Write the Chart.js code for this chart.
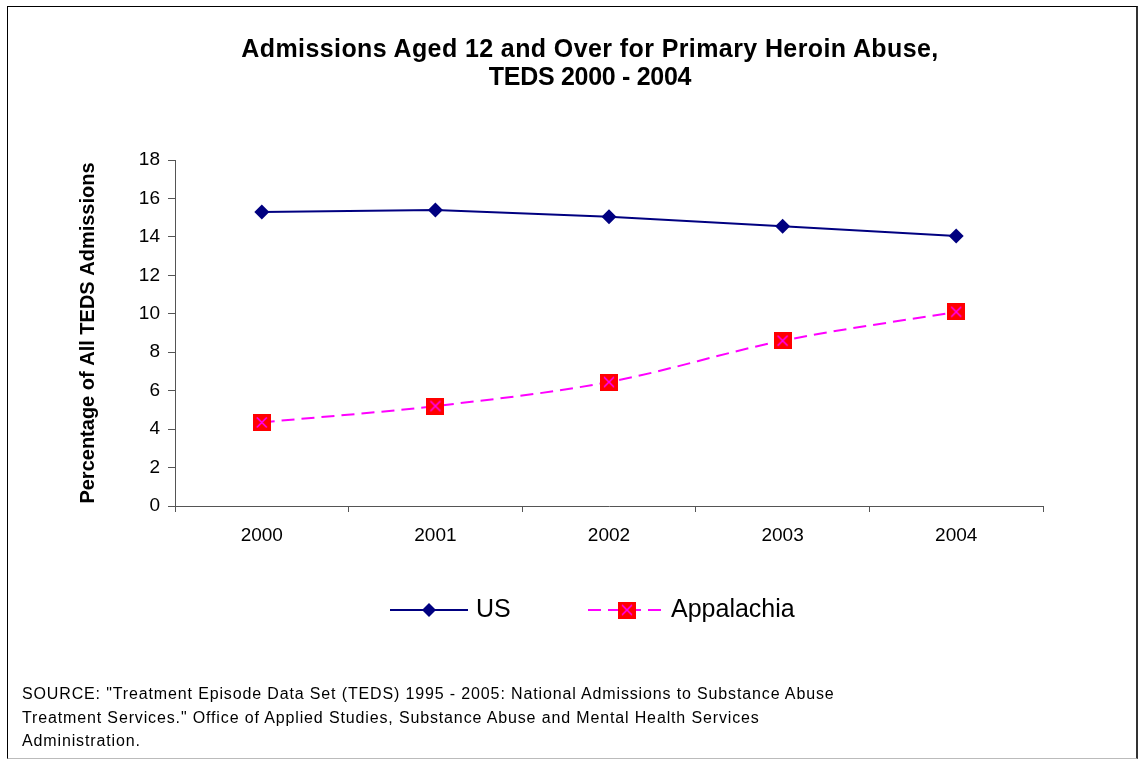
<!DOCTYPE html>
<html>
<head>
<meta charset="utf-8">
<script src="https://cdn.jsdelivr.net/npm/chart.js@4/dist/chart.umd.min.js"></script>
<style>
  html, body { margin: 0; padding: 0; background: #fff; }
  body { width: 1139px; height: 759px; position: relative; overflow: hidden; font-family: "Liberation Sans", Arial, sans-serif; }
  #frame { position: absolute; left: 7px; top: 6px; width: 1128px; height: 751px;
           border-left: 1px solid #000; border-top: 1px solid #000; border-right: 2px solid #333; border-bottom: 1px solid #bbb; }
  #c { position: absolute; left: 0; top: 0; }
  #title { position: absolute; left: 140px; width: 900px; top: 34px; text-align: center;
           font-weight: bold; font-size: 25px; letter-spacing: 0.4px; line-height: 28px; color: #000; }
  #title .l2 { letter-spacing: -0.3px; }
  #source { position: absolute; left: 22px; top: 682px; font-size: 16px; letter-spacing: 0.86px; line-height: 23.5px; color: #000; white-space: nowrap; }
</style>
</head>
<body>
<div id="frame"></div>
<canvas id="c" width="1139" height="759"></canvas>
<div id="title">Admissions Aged 12 and Over for Primary Heroin Abuse,<br><span class="l2">TEDS 2000 - 2004</span></div>
<div id="source">SOURCE: "Treatment Episode Data Set (TEDS) 1995 - 2005: National Admissions to Substance Abuse<br>Treatment Services." Office of Applied Studies, Substance Abuse and Mental Health Services<br>Administration.</div>
<script>
const years = ["2000", "2001", "2002", "2003", "2004"];
const usValues = [15.3, 15.4, 15.05, 14.55, 14.05];
const appalachiaValues = [4.35, 5.2, 6.45, 8.6, 10.1];
const seriesNames = ["US", "Appalachia"];
const yAxisTitle = "Percentage of All TEDS Admissions";

const FONT = '"Liberation Sans", Arial, sans-serif';

// Red square with magenta X marker
function makeXSquare() {
  const cv = document.createElement('canvas');
  cv.width = 18; cv.height = 17;
  const g = cv.getContext('2d');
  g.fillStyle = '#FF0000';
  g.fillRect(0, 0, 18, 17);
  g.strokeStyle = '#FF00FF';
  g.lineWidth = 1.6;
  g.beginPath();
  g.moveTo(4, 3.5); g.lineTo(14, 13.5);
  g.moveTo(14, 3.5); g.lineTo(4, 13.5);
  g.stroke();
  return cv;
}
const xSquare = makeXSquare();

const legendPlugin = {
  id: 'customLegend',
  afterDraw(chart) {
    const ctx = chart.ctx;
    ctx.save();
    const y = 610;
    // US
    ctx.strokeStyle = '#000080';
    ctx.lineWidth = 2;
    ctx.setLineDash([]);
    ctx.beginPath(); ctx.moveTo(390, y); ctx.lineTo(468, y); ctx.stroke();
    ctx.fillStyle = '#000080';
    ctx.beginPath();
    ctx.moveTo(429, y - 7); ctx.lineTo(436, y); ctx.lineTo(429, y + 7); ctx.lineTo(422, y);
    ctx.closePath(); ctx.fill();
    // Appalachia
    ctx.strokeStyle = '#FF00FF';
    ctx.setLineDash([13, 7]);
    ctx.beginPath(); ctx.moveTo(588, y); ctx.lineTo(666, y); ctx.stroke();
    ctx.setLineDash([]);
    ctx.drawImage(xSquare, 627 - 9, y - 8.5);
    // labels
    ctx.fillStyle = '#000';
    ctx.font = '25px ' + FONT;
    ctx.textBaseline = 'middle';
    ctx.textAlign = 'left';
    ctx.fillText(seriesNames[0], 476, y);
    ctx.fillText(seriesNames[1], 671, y);
    ctx.restore();
  }
};

new Chart(document.getElementById('c'), {
  type: 'line',
  data: {
    labels: years,
    datasets: [
      {
        label: seriesNames[0],
        data: usValues,
        borderColor: '#000080',
        backgroundColor: '#000080',
        borderWidth: 2,
        pointStyle: 'rectRot',
        pointRadius: 7.5,
        pointHoverRadius: 7.5,
        pointBackgroundColor: '#000080',
        pointBorderColor: '#000080',
        pointBorderWidth: 0,
        tension: 0,
        fill: false
      },
      {
        label: seriesNames[1],
        data: appalachiaValues,
        borderColor: '#FF00FF',
        backgroundColor: '#FF0000',
        borderWidth: 2,
        borderDash: [13, 7],
        pointStyle: xSquare,
        pointRadius: 9,
        tension: 0.33,
        fill: false
      }
    ]
  },
  options: {
    responsive: false,
    animation: false,
    events: [],
    layout: { padding: { left: 0, right: 96, top: 160, bottom: 0 } },
    plugins: {
      legend: { display: false },
      title: { display: false },
      tooltip: { enabled: false }
    },
    scales: {
      x: {
        type: 'category',
        offset: true,
        grid: { display: true, drawOnChartArea: false, drawTicks: true, tickLength: 6, color: '#555', offset: true },
        border: { display: true, color: '#555', width: 1 },
        ticks: { color: '#000', font: { family: FONT, size: 19 }, padding: 12, maxRotation: 0 },
        afterFit(scale) { scale.height = 253; }
      },
      y: {
        min: 0, max: 18,
        grid: { display: true, drawOnChartArea: false, drawTicks: true, tickLength: 7, color: '#555' },
        border: { display: true, color: '#555', width: 1 },
        ticks: { stepSize: 2, color: '#000', font: { family: FONT, size: 19 }, padding: 8 },
        title: { display: true, text: yAxisTitle, color: '#000', font: { family: FONT, size: 20, weight: 'bold' }, padding: { top: 76, bottom: 0 } },
        afterFit(scale) { scale.width = 175; }
      }
    }
  },
  plugins: [legendPlugin]
});
</script>
</body>
</html>
